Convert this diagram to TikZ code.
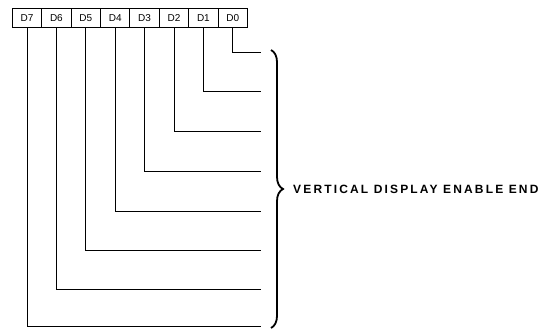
\documentclass[tikz,border=0pt]{standalone}
\usepackage{fontspec}
\setmainfont{Liberation Sans}
\usepackage{tikz}
\usetikzlibrary{positioning, decorations.pathreplacing}

\tikzset{
  bitbox/.style={draw, line width=1pt, minimum width=29.4pt, minimum height=19pt, inner sep=0pt, outer sep=0pt, font=\fontsize{10}{11}\selectfont},
  wire/.style={line width=1pt},
}

\begin{document}
\begin{tikzpicture}[x=1pt, y=-1pt, node distance=0pt]
  \useasboundingbox (0,0) rectangle (556,329);
  % register bits
  \node[bitbox] (d7) at (27,18.5) {D7};
  \node[bitbox, right=of d7] (d6) {D6};
  \node[bitbox, right=of d6] (d5) {D5};
  \node[bitbox, right=of d5] (d4) {D4};
  \node[bitbox, right=of d4] (d3) {D3};
  \node[bitbox, right=of d3] (d2) {D2};
  \node[bitbox, right=of d2] (d1) {D1};
  \node[bitbox, right=of d1] (d0) {D0};
  % line ends
  \coordinate (e0) at (261,52.5);
  \coordinate (e1) at (261,91.5);
  \coordinate (e2) at (261,131.5);
  \coordinate (e3) at (261,171.5);
  \coordinate (e4) at (261,211.5);
  \coordinate (e5) at (261,250.5);
  \coordinate (e6) at (261,289.5);
  \coordinate (e7) at (261,326.5);
  \foreach \i in {0,...,7}
    \draw[wire] (d\i.south) |- (e\i);
  % brace
  \coordinate (btop) at (271,50);
  \coordinate (bbot) at (271,328);
  \draw[line width=1.8pt, decorate, decoration={brace, amplitude=12pt}] (btop) -- (bbot);
  \node[anchor=west, inner sep=0pt, font=\fontsize{12}{13}\selectfont\bfseries\addfontfeature{LetterSpace=18}] (lbl) at (293,189) {VERTICAL DISPLAY ENABLE END};
\end{tikzpicture}
\end{document}
